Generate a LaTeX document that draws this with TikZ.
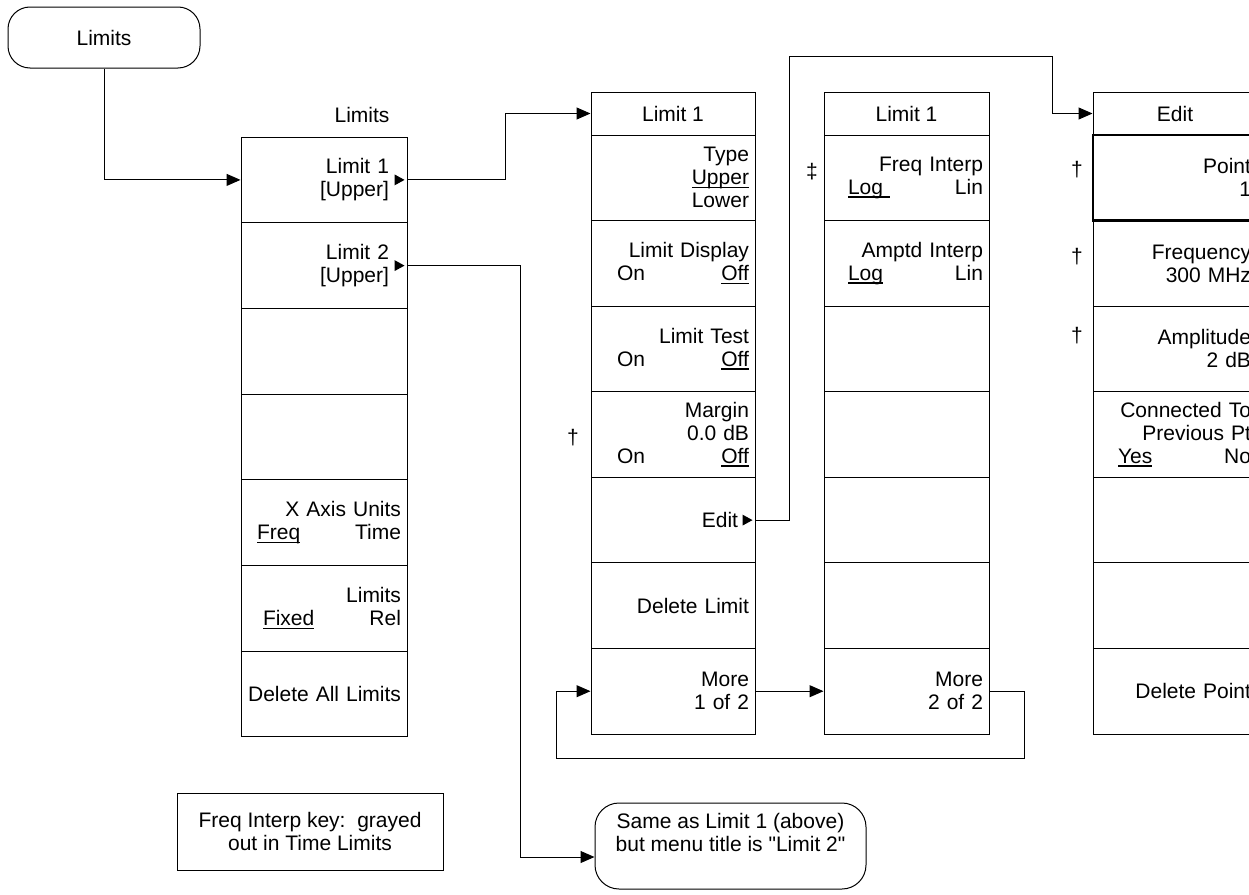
\documentclass[tikz,border=0pt]{standalone}
\usepackage{fontspec}
\setmainfont{Liberation Sans}[Ligatures=TeXOff]
\usetikzlibrary{arrows.meta}
\newsavebox\kulbox
\newcommand\keyul[1]{\leavevmode\sbox\kulbox{#1}\rlap{\rule[-3.2pt]{\wd\kulbox}{1.3pt}}\usebox\kulbox}
\newcommand\lrline[3]{\hbox to \hsize{\hskip#1pt #2\hfill #3}}
\newcommand\kf{\fontsize{21}{23}\selectfont}
\newcommand\keytri[1]{\fill ([shift={(-13pt,5.5pt)}]#1.east) -- ([shift={(-3pt,0pt)}]#1.east) -- ([shift={(-13pt,-5.5pt)}]#1.east) -- cycle;}
\begin{document}
\begin{tikzpicture}[x={(1pt,0)}, y={(0,-1pt)}, line width=1pt, font=\kf,
  key/.style={draw, rectangle, inner sep=0pt, align=right, minimum height=85.6pt},
  k1/.style={key, minimum width=166pt, text width=154pt},
  k2/.style={key, minimum width=164pt, text width=152pt},
  k3/.style={key, minimum width=165pt, text width=153pt},
  k4/.style={key, minimum width=164pt, text width=152pt},
  ttl/.style={draw, rectangle, inner sep=0pt, minimum height=43pt},
  pill/.style={draw, rectangle, rounded corners=22pt, inner sep=0pt, align=center},
  arr/.style={-{Triangle[length=14pt,width=12pt]}}]
\useasboundingbox (0,0) rectangle (1249,894);
\clip (0,0) rectangle (1249,894);

% top entry
\node[pill, minimum width=192pt, minimum height=61pt] (top) at (104,37.5) {Limits};

% column 1 : Limits
\node (c1t) at (362,115) {Limits};
\node[k1] (c1r1) at (324,179.9) {Limit 1\kern12pt\\{[Upper]}\kern12pt};
\node[k1] (c1r2) at (324,265.6) {Limit 2\kern12pt\\{[Upper]}\kern12pt};
\node[k1] (c1r3) at (324,351.3) {};
\node[k1] (c1r4) at (324,437.0) {};
\node[k1] (c1r5) at (324,522.7) {X Axis Units\\\lrline{10}{\keyul{Freq}}{Time}};
\node[k1] (c1r6) at (324,608.4) {Limits\\\lrline{16}{\keyul{Fixed}}{Rel}};
\node[k1] (c1r7) at (324,694.1) {Delete All Limits};
\keytri{c1r1}
\keytri{c1r2}

% column 2 : Limit 1 (page 1)
\node[ttl, minimum width=164pt] (c2t) at (673,113.5) {Limit 1};
\node[k2] (c2r1) at (673,177.8) {Type\\\keyul{Upper}\\Lower};
\node[k2] (c2r2) at (673,263.4) {Limit Display\\\lrline{20}{On}{\keyul{Off}}};
\node[k2] (c2r3) at (673,348.9) {Limit Test\\\lrline{20}{On}{\keyul{Off}}};
\node[k2] (c2r4) at (673,434.5) {Margin\\0.0 dB\\\lrline{20}{On}{\keyul{Off}}};
\node[k2] (c2r5) at (673,520.1) {Edit\kern11pt};
\node[k2] (c2r6) at (673,605.6) {Delete Limit};
\node[k2] (c2r7) at (673,691.2) {More\\1 of 2};
\keytri{c2r5}
\node (dg1) at (573,438) {†};

% column 3 : Limit 1 (page 2)
\node[ttl, minimum width=165pt] (c3t) at (906.5,113.5) {Limit 1};
\node[k3] (c3r1) at (906.5,177.8) {Freq Interp\\\lrline{18}{\keyul{Log\ }}{Lin}};
\node[k3] (c3r2) at (906.5,263.4) {Amptd Interp\\\lrline{18}{\keyul{Log}}{Lin}};
\node[k3] (c3r3) at (906.5,348.9) {};
\node[k3] (c3r4) at (906.5,434.5) {};
\node[k3] (c3r5) at (906.5,520.1) {};
\node[k3] (c3r6) at (906.5,605.6) {};
\node[k3] (c3r7) at (906.5,691.2) {More\\2 of 2};
\node (dg2) at (812,172) {‡};

% column 4 : Edit
\node[ttl, minimum width=164pt] (c4t) at (1175,113.5) {Edit};
\node[k4, line width=2.5pt] (c4r1) at (1175,177.8) {Point\\1};
\node[k4] (c4r2) at (1175,263.4) {Frequency\\300 MHz};
\node[k4] (c4r3) at (1175,348.9) {Amplitude\\2 dB};
\node[k4] (c4r4) at (1175,434.5) {Connected To\\Previous Pt\\\lrline{19}{\keyul{Yes}}{No}};
\node[k4] (c4r5) at (1175,520.1) {};
\node[k4] (c4r6) at (1175,605.6) {};
\node[k4] (c4r7) at (1175,691.2) {Delete Point};
\node (dg3) at (1077,170) {†};
\node (dg4) at (1077,257) {†};
\node (dg5) at (1077,336) {†};

% bottom notes
\node[draw, rectangle, minimum width=266pt, minimum height=77pt, inner sep=0pt, align=center] (note) at (310,831.5) {Freq Interp key:\ \ grayed\\out in Time Limits};
\node[pill, rounded corners=24pt, minimum width=271pt, minimum height=86pt] (same) at (730.5,846) {Same as Limit 1 (above)\\but menu title is "Limit 2"\\[4pt]\mbox{}};

% connectors
\draw[arr] (top.south) |- (c1r1.west);
\draw[arr] (c1r1.east) -- ++(98,0) |- (c2t.west);
\draw[arr] (c1r2.east) -- ++(113,0) |- ([yshift=-11pt]same.west);
\coordinate (e1) at (789,56);
\coordinate (e2) at (1052,56);
\draw[arr] (c2r5.east) -| (e1) -- (e2) |- (c4t.west);
\draw[arr] (c2r7.east) -- (c3r7.west);
\coordinate (l1) at (1024,758);
\coordinate (l2) at (556,758);
\draw[arr] (c3r7.east) -| (l1) -- (l2) |- (c2r7.west);
\end{tikzpicture}
\end{document}
